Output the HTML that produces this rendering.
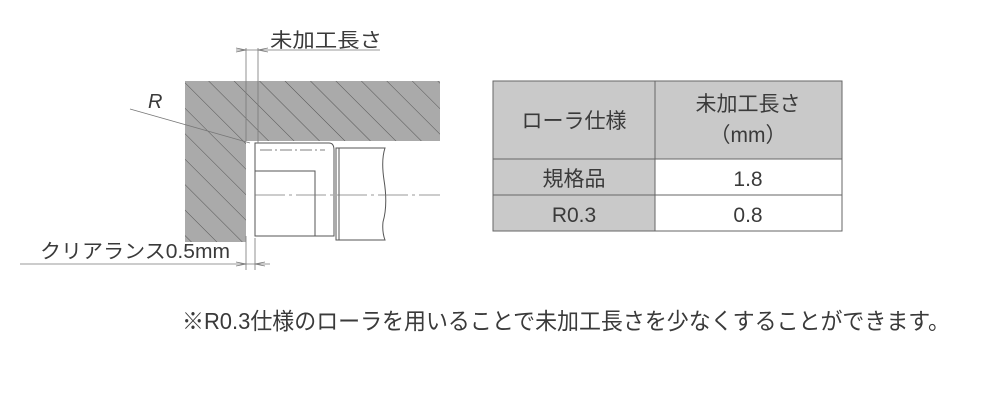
<!DOCTYPE html>
<html><head><meta charset="utf-8"><style>
html,body{margin:0;padding:0;background:#fff;}
svg{display:block;}
text{font-family:"Liberation Sans","Noto Sans CJK JP",sans-serif;fill:#3a3a3a;}
</style></head><body>
<svg width="1000" height="407" viewBox="0 0 1000 407" xmlns="http://www.w3.org/2000/svg">
<defs>
<pattern id="h" width="18" height="18" patternUnits="userSpaceOnUse" patternTransform="rotate(-45)">
<rect width="18" height="18" fill="#aaaaaa"/>
<line x1="0" y1="0" x2="0" y2="18" stroke="#555" stroke-width="1"/>
</pattern>
</defs>
<path d="M185 81 H440 V141 H246 V242 H185 Z" fill="url(#h)"/>
<g fill="none" stroke="#555" stroke-width="1">
<path d="M255 143 H329 Q334 143 334 150 V236 H255 Z" fill="#fff"/>
<path d="M255 171 H315 V236"/>
<path d="M336 148 H385 Q381 160 384 180 Q388 205 383 222 Q382 232 385 240 H336 Z" fill="#fff"/>
<line x1="339" y1="148" x2="339" y2="240"/>
<line x1="260" y1="150" x2="325" y2="150" stroke-dasharray="12 3 2 3" stroke-width="0.7"/>
</g>
<line x1="255" y1="195" x2="440" y2="195" stroke="#777" stroke-width="0.8" stroke-dasharray="30 4 3 4"/>
<g stroke="#777" stroke-width="0.8" fill="none">
<line x1="246" y1="48" x2="246" y2="141"/>
<line x1="258" y1="48" x2="258" y2="143"/>
<line x1="236" y1="50" x2="380" y2="50"/>
<path d="M236 48 L246 50 L236 52"/>
<path d="M268 48 L258 50 L268 52"/>
<line x1="246" y1="236" x2="246" y2="270"/>
<line x1="255" y1="238" x2="255" y2="270"/>
<line x1="20" y1="264" x2="270" y2="264"/>
<path d="M236 262 L246 264 L236 266"/>
<path d="M265 262 L255 264 L265 266"/>
<line x1="130" y1="109" x2="250" y2="143"/>
</g>
<text x="270" y="47" font-size="20" textLength="112" lengthAdjust="spacingAndGlyphs">未加工長さ</text>
<text x="148" y="108" font-size="20" font-style="italic">R</text>
<text x="40" y="258" font-size="20" textLength="190" lengthAdjust="spacingAndGlyphs">クリアランス0.5mm</text>
<g stroke="#666" stroke-width="1">
<rect x="493" y="81" width="349" height="150" fill="#fff"/>
<rect x="493" y="81" width="349" height="78" fill="#c9c9c9"/>
<rect x="493" y="159" width="162" height="72" fill="#c9c9c9"/>
<line x1="493" y1="195" x2="842" y2="195"/>
<line x1="655" y1="81" x2="655" y2="231"/>
</g>
<g font-size="21" text-anchor="middle">
<text x="574" y="128">ローラ仕様</text>
<text x="748" y="111">未加工長さ</text>
<text x="748" y="142">（mm）</text>
<text x="574" y="186">規格品</text>
<text x="748" y="186">1.8</text>
<text x="574" y="222">R0.3</text>
<text x="748" y="222">0.8</text>
</g>
<text x="182" y="329" font-size="23" textLength="768" lengthAdjust="spacingAndGlyphs">※R0.3仕様のローラを用いることで未加工長さを少なくすることができます。</text>
</svg>
</body></html>
